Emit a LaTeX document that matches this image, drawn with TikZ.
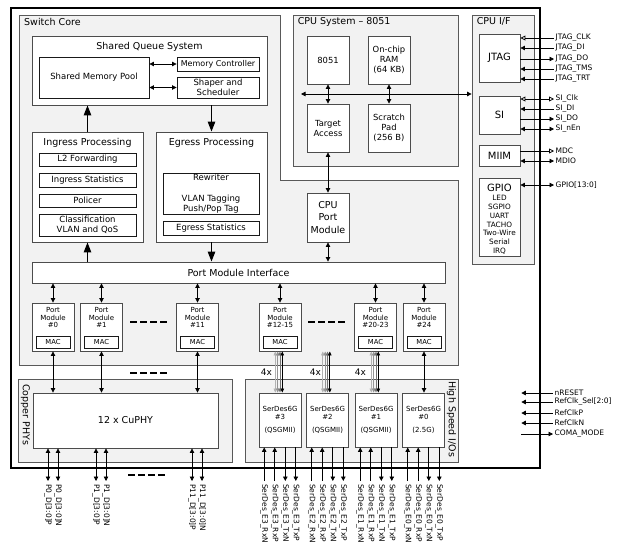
\documentclass[tikz,border=0pt]{standalone}
\usepackage{fontspec}
\setmainfont{DejaVu Sans}
\usetikzlibrary{arrows.meta,positioning}

\tikzset{
  >={Triangle[length=4.5pt,width=4.5pt]},
  sz/.style 2 args={minimum width=#1pt, minimum height=#2pt},
  panel/.style={draw=black!65, fill=black!5, line width=0.8pt},
  blk/.style={draw=black!70, fill=white, line width=0.9pt, inner sep=0pt, align=center},
  sub/.style={draw=black!90, fill=white, line width=0.9pt, inner sep=0pt, align=center, font=\fontsize{8.5}{10.5}\selectfont},
  ttl/.style={inner sep=0pt, font=\fontsize{9.5}{11.5}\selectfont},
  cpu/.style={blk, sz={42}{48}, font=\fontsize{8.4}{10}\selectfont},
  ifbox/.style={blk, font=\fontsize{10}{12}\selectfont},
  pmod/.style={blk, sz={42}{48}},
  pmtxt/.style={inner sep=0pt, align=center, font=\fontsize{7}{7.8}\selectfont},
  mac/.style={sub, sz={34}{12}, font=\fontsize{6.8}{8}\selectfont},
  link/.style={<->, line width=0.8pt},
  glink/.style={{Triangle[length=4pt,width=3.5pt]}-{Triangle[length=4pt,width=3.5pt]}, line width=0.8pt},
  big/.style={-{Triangle[length=10pt,width=7.5pt]}, line width=1.2pt},
  wire/.style={line width=0.8pt},
  sig/.style={inner sep=1.5pt, anchor=west, font=\fontsize{7.5}{9}\selectfont},
  pin/.style={inner sep=0pt, anchor=west, rotate=-90, font=\fontsize{7.5}{9}\selectfont},
  opin/.style={{Triangle[open,length=5pt,width=5pt]}-},
  opout/.style={-{Triangle[open,length=5pt,width=5pt]}},
  opboth/.style={{Triangle[open,length=5pt,width=5pt]}-{Triangle[open,length=5pt,width=5pt]}},
  gap/.style={dash pattern=on 7pt off 3pt, line width=1.6pt},
}

\begin{document}
\begin{tikzpicture}[x=1pt,y=-1pt]
\useasboundingbox (0,0) rectangle (620,549);
\fill[white] (0,0) rectangle (620,549);

\node[draw, fill=white, line width=2.6pt, sz={529}{460}] (chip) at (275.5,238) {};

\draw[panel] (19,15) -- (280,15) -- (280,180) -- (458,180) -- (458,365) -- (19,365) -- cycle;
\node[ttl, anchor=base west] (swcore) at (24,25.2) {Switch Core};

\node[panel, sz={165}{151}] (cpusys) at (375.5,90.5) {};
\node[ttl, anchor=base west] (cpusysttl) at ([xshift=5pt,yshift=-10.2pt]cpusys.north west) {CPU System – 8051};
\node[panel, sz={62}{249}] (cpuif) at (503,139.5) {};
\node[ttl, anchor=base west] (cpuifttl) at ([xshift=5pt,yshift=-10.2pt]cpuif.north west) {CPU I/F};
\node[panel, sz={214}{83}] (cuphys) at (125,420.5) {};
\node[panel, sz={213}{83}] (hsio) at (351.5,420.5) {};

\node[blk, sz={235}{69}] (sqs) at (149.5,70.5) {};
\node[ttl, anchor=base] (sqsttl) at ([yshift=-13.5pt]sqs.north) {Shared Queue System};
\node[sub, sz={110}{41}] (pool) at (94,77.5) {Shared Memory Pool};
\node[sub, sz={82}{14}, font=\fontsize{8}{10}\selectfont] (memctl) at (218,64) {Memory Controller};
\node[sub, sz={82}{21}, font=\fontsize{8.5}{10}\selectfont] (shaper) at (218,87.5) {Shaper and\\Scheduler};
\draw[link] (pool.east |- memctl.west) -- (memctl.west);
\draw[link] (pool.east |- shaper.west) -- (shaper.west);

\node[blk, sz={111}{110}] (ingr) at (87.5,187) {};
\node[ttl, anchor=base] (ingrttl) at ([yshift=-13.7pt]ingr.north) {Ingress Processing};
\node[sub, sz={97}{13}] (l2fwd) at (87.5,159.5) {L2 Forwarding};
\node[sub, sz={97}{14}] (ingstat) at (87.5,180) {Ingress Statistics};
\node[sub, sz={97}{13}] (policer) at (87.5,200.5) {Policer};
\node[sub, sz={97}{22}] (classif) at (87.5,225) {Classification\\VLAN and QoS};

\node[blk, sz={111}{110}] (egr) at (211.5,187) {};
\node[ttl, anchor=base] (egrttl) at ([yshift=-13.7pt]egr.north) {Egress Processing};
\node[sub, sz={96}{41}] (rewr) at (211,193.5) {Rewriter\\[10.5pt]VLAN Tagging\\Push/Pop Tag};
\node[sub, sz={96}{14}] (egstat) at (211,228) {Egress Statistics};

\draw[big] (ingr.north) -- (ingr.north |- sqs.south);
\draw[big] (egr.north |- sqs.south) -- (egr.north);

\node[blk, sz={413}{21}, font=\fontsize{9.5}{11}\selectfont] (pmi) at (238.5,272.5) {Port Module Interface};
\draw[big] (ingr.south |- pmi.north) -- (ingr.south);
\draw[big] (egr.south) -- (egr.south |- pmi.north);

\node[cpu] (c8051) at (328,60) {8051};
\node[cpu] (ram) at (389,60) {On-chip\\RAM\\(64 KB)};
\node[cpu] (target) at (328,128) {Target\\Access};
\node[cpu] (scratch) at (389,128) {Scratch\\Pad\\(256 B)};
\node[blk, sz={42}{49}, font=\fontsize{9.5}{12.5}\selectfont] (cpupm) at (328,217.5) {CPU\\Port\\Module};
\coordinate (busw) at (301,94);
\draw[link] (busw) -- (busw -| cpuif.west);
\draw[link] (c8051) -- (target);
\draw[link] (ram) -- (scratch);
\draw[link] (target) -- (cpupm);
\draw[link] (cpupm.south) -- (cpupm.south |- pmi.north);

\node[ifbox, sz={41}{48}] (jtag) at (499.5,58) {JTAG};
\node[ifbox, sz={41}{38}] (si) at (499.5,115) {SI};
\node[ifbox, sz={41}{21}] (miim) at (499.5,155.5) {MIIM};
\node[blk, sz={41}{78}] (gpio) at (499.5,217) {};
\node[ttl, anchor=base, font=\fontsize{10}{12}\selectfont] (gpiottl) at ([yshift=-13.6pt]gpio.north) {GPIO};
\node[pmtxt, below=3.7pt of gpiottl, font=\fontsize{7.3}{8.8}\selectfont] (gpiolist) {LED\\SGPIO\\UART\\TACHO\\Two-Wire\\Serial\\IRQ};

\foreach \y/\t/\tip in {38/JTAG\_CLK/opin, 48/JTAG\_DI/<-, 59/JTAG\_DO/->, 69/JTAG\_TMS/<-, 79/JTAG\_TRT/<-,
    99/SI\_Clk/opboth, 109/SI\_DI/<-, 119/SI\_DO/->, 129/SI\_nEn/<->, 151/MDC/opout, 161/MDIO/<->, 185/GPIO[13:0]/<->} {
  \coordinate (s) at (554,\y);
  \draw[wire, \tip] (s -| jtag.east) -- (s);
  \node[sig] (sig\y) at (s) {\t};
}

\foreach \y/\t/\tip in {393/nRESET/<-, 402/RefClk\_Sel[2:0]/<-, 413/RefClkP/<-, 423/RefClkN/<-, 434/COMA\_MODE/->} {
  \coordinate (s) at (553,\y);
  \draw[wire, \tip] ([xshift=-20pt]chip.east |- s) -- (s);
  \node[sig] (sig\y) at (s) {\t};
}

\foreach \n/\x/\t in {0/53/\#0, 1/101.5/\#1, 11/197.5/\#11, 12/280/\#12-15, 20/375.5/\#20-23, 24/424/\#24} {
  \node[pmod] (pm\n) at (\x,327) {};
  \node[pmtxt, below=4.5pt of pm\n.north] (pmt\n) {Port\\Module\\\t};
  \node[mac, above=3pt of pm\n.south] (mac\n) {MAC};
  \draw[link] (pm\n.north |- pmi.south) -- (pm\n.north);
}

\draw[gap] (130,322) -- (167,322);
\draw[gap] (308,322) -- (347,322);
\draw[gap] (130,373) -- (168,373);
\draw[gap] (128,475) -- (167,475);

\node[blk, sz={185}{55}, font=\fontsize{9.5}{11}\selectfont] (cuphy) at (125.5,420.5) {12 x CuPHY};
\node[ttl, rotate=-90, anchor=west] (cuttl) at (25.5,384) {Copper PHYs};
\foreach \n in {0,1,11}
  \draw[link] (pm\n.south) -- (pm\n.south |- cuphy.north);

\foreach \x/\t in {48/P0\_D[3:0]P, 58/P0\_D[3:0]N, 96/P1\_D[3:0]P, 106/P1\_D[3:0]N, 192/P11\_D[3:0]P, 202/P11\_D[3:0]N} {
  \coordinate (e) at (\x,481);
  \draw[link] (e |- cuphy.south) -- (e);
  \node[pin] (pin\x) at ([yshift=-3pt]e) {\t};
}

\node[ttl, rotate=-90, anchor=west] (hsttl) at (451.5,381) {High Speed I/Os};
\foreach \n/\x/\t in {3/280/QSGMII, 2/327.5/QSGMII, 1/376/QSGMII, 0/423.5/2.5G} {
  \node[blk, sz={42}{54}, font=\fontsize{7}{8}\selectfont] (sd\n) at (\x,420) {SerDes6G\\\#\n\\[5pt](\t)};
  \foreach \o/\s/\tip in {-15.8/RxN/<-, -5.3/RxP/<-, 5.3/TxN/->, 15.8/TxP/->} {
    \coordinate (e) at (\x+\o,481);
    \draw[wire, \tip] (e |- sd\n.south) -- (e);
    \node[pin] (pin\n\s) at ([yshift=-3pt]e) {SerDes\_E\n\_\s};
  }
}

\foreach \n in {3,2,1} {
  \coordinate (g\n) at (sd\n.north |- pm12.south);
  \foreach \o/\c in {-4.7/black!30, -2.3/black!42, 0/black!55}
    \draw[glink, \c] ([xshift=\o pt]g\n) -- ([xshift=\o pt]sd\n.north);
  \draw[glink] ([xshift=2.3pt]g\n) -- ([xshift=2.3pt]sd\n.north);
}
\draw[link] (pm24.south) -- (pm24.south |- sd0.north);

\foreach \x [count=\i] in {266.5, 315.5, 360.5}
  \node[inner sep=0pt, font=\fontsize{9}{11}\selectfont] (four\i) at (\x,372) {4x};

\end{tikzpicture}
\end{document}
